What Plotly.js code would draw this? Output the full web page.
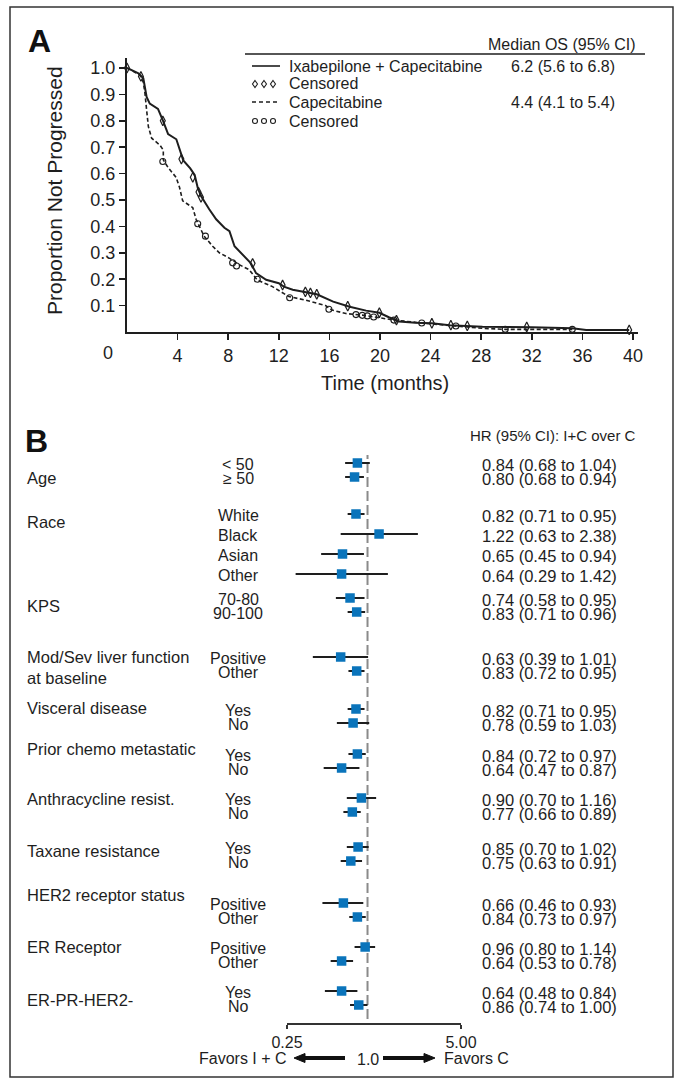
<!DOCTYPE html>
<html><head><meta charset="utf-8">
<script src="https://cdn.plot.ly/plotly-3.0.1.min.js"></script>
<style>html,body{margin:0;padding:0;background:#fff}</style>
</head><body><div id="chart" style="width:677px;height:1080px"></div>
<script>
// ---------------- Panel A data (Kaplan-Meier) ----------------
const ixaMonths = [0,0.9,1.29,1.42,1.55,1.8,2.45,2.85,3.25,3.9,4.18,4.45,5.0,5.35,5.6,5.85,6.5,7.05,7.7,8.1,8.5,9.15,9.8,10.2,11.0,12.0,12.4,13.1,14.1,15.0,16.3,17.6,18.9,19.95,20.7,21.5,22.8,24.1,25.5,26.8,28.1,32.0,35.2,36.3,39.7];
const ixaSurv   = [1.0,0.98,0.961,0.929,0.89,0.865,0.845,0.80,0.75,0.73,0.69,0.65,0.62,0.595,0.545,0.515,0.465,0.427,0.395,0.382,0.325,0.293,0.26,0.223,0.198,0.185,0.172,0.16,0.15,0.143,0.115,0.096,0.081,0.073,0.056,0.04,0.035,0.033,0.026,0.023,0.02,0.018,0.014,0.008,0.008];
const capMonths = [0,1.03,1.29,1.42,1.55,1.69,1.95,2.6,2.87,2.87,3.26,3.88,4.15,4.4,5.2,5.46,5.72,6.1,6.77,7.3,8.08,8.87,9.66,10.3,11.5,12.8,14.1,15.7,16.2,17.3,18.6,19.4,21.0,23.3,26.0,28.1,29.9,35.2];
const capSurv   = [1.0,0.973,0.946,0.904,0.841,0.778,0.734,0.708,0.689,0.652,0.622,0.586,0.548,0.497,0.471,0.427,0.40,0.363,0.325,0.30,0.28,0.255,0.236,0.197,0.172,0.134,0.121,0.10,0.083,0.07,0.064,0.058,0.046,0.034,0.023,0.014,0.01,0.01];
const ixaCensMonths = [0,1.1,2.83,4.3,5.2,5.65,5.85,9.93,12.3,14.1,14.5,15.0,17.45,19.95,21.3,24.1,25.6,26.9,31.6,39.7];
const ixaCensSurv   = [1.0,0.968,0.80,0.655,0.586,0.53,0.51,0.26,0.178,0.152,0.148,0.143,0.098,0.073,0.045,0.033,0.026,0.023,0.019,0.008];
const capCensMonths = [2.83,5.59,6.2,8.35,8.66,10.3,12.86,15.96,18.1,18.6,19.0,19.5,21.1,23.3,26.0,29.9,35.2];
const capCensSurv   = [0.646,0.41,0.363,0.262,0.25,0.2,0.13,0.086,0.066,0.063,0.061,0.057,0.045,0.034,0.023,0.01,0.01];
const xTickVals = [4,8,12,16,20,24,28,32,36,40];
const yTickVals = [0.1,0.2,0.3,0.4,0.5,0.6,0.7,0.8,0.9,1.0];
const legendNames  = ["Ixabepilone + Capecitabine","Censored","Capecitabine","Censored"];
const legendMedian = ["6.2 (5.6 to 6.8)","","4.4 (4.1 to 5.4)",""];

// ---------------- Panel B data (forest plot) ----------------
const groupNames = ["Age","Race","KPS","Mod/Sev liver function<br>at baseline","Visceral disease","Prior chemo metastatic","Anthracycline resist.","Taxane resistance","HER2 receptor status","ER Receptor","ER-PR-HER2-"];
const groupSizes = [2,4,2,2,2,2,2,2,2,2,2];
const subLabels = ["< 50","≥ 50","White","Black","Asian","Other","70-80","90-100","Positive","Other","Yes","No","Yes","No","Yes","No","Yes","No","Positive","Other","Positive","Other","Yes","No"];
const hrVals = [0.84,0.80,0.82,1.22,0.65,0.64,0.74,0.83,0.63,0.83,0.82,0.78,0.84,0.64,0.90,0.77,0.85,0.75,0.66,0.84,0.96,0.64,0.64,0.86];
const ciLow  = [0.68,0.68,0.71,0.63,0.45,0.29,0.58,0.71,0.39,0.72,0.71,0.59,0.72,0.47,0.70,0.66,0.70,0.63,0.46,0.73,0.80,0.53,0.48,0.74];
const ciHigh = [1.04,0.94,0.95,2.38,0.94,1.42,0.95,0.96,1.01,0.95,0.95,1.03,0.97,0.87,1.16,0.89,1.02,0.91,0.93,0.97,1.14,0.78,0.84,1.00];
const forestTicks = [0.25,5.00];

// ---------------- layout helpers ----------------
const W = 677, H = 1080;
const px = x => x / W;
const py = y => 1 - y / H;
const REG = "Liberation Sans, Arial, sans-serif";
const NAR = "Liberation Sans Narrow, Arial Narrow, Liberation Sans, sans-serif";
const INK = "#1e1e1e";

// row positions (vertical layout of forest plot, in pixel-like units)
const ROW_START = 463, PAIR_STEP = 14, MULTI_STEP = 20;
const GROUP_GAP = [0,37,24,45,38,31,30,35,42,30,30];
const GROUP_LABEL_SHIFT = [8,-2,1,3,-8,-12,-6,-3,-15,-7,2];
const rowPos = [], groupLabelY = [];
let cur = ROW_START;
groupSizes.forEach((n, g) => {
  cur += GROUP_GAP[g];
  const step = n > 2 ? MULTI_STEP : PAIR_STEP;
  const first = cur;
  for (let k = 0; k < n; k++) { rowPos.push(cur); if (k < n - 1) cur += step; }
  groupLabelY.push((first + first + step) / 2 + GROUP_LABEL_SHIFT[g]);
});

const fmt = v => v.toFixed(2);
const hrText = hrVals.map((h, i) => `${fmt(h)} (${fmt(ciLow[i])} to ${fmt(ciHigh[i])})`);

// ---------------- traces ----------------
const traces = [
  {x: ixaMonths, y: ixaSurv, mode: "lines", line: {color: INK, width: 2}, xaxis: "x", yaxis: "y", cliponaxis: false, hoverinfo: "skip"},
  {x: capMonths, y: capSurv, mode: "lines", line: {color: INK, width: 1.6, dash: "4px,2.5px"}, xaxis: "x", yaxis: "y", cliponaxis: false, hoverinfo: "skip"},
  {x: ixaCensMonths, y: ixaCensSurv, mode: "markers", marker: {symbol: "diamond-tall-open", size: 7, color: INK, line: {width: 1.2, color: INK}}, xaxis: "x", yaxis: "y", cliponaxis: false},
  {x: capCensMonths, y: capCensSurv, mode: "markers", marker: {symbol: "circle-open", size: 6, color: INK, line: {width: 1.1, color: INK}}, xaxis: "x", yaxis: "y", cliponaxis: false},
  {x: hrVals, y: rowPos, mode: "markers", xaxis: "x2", yaxis: "y2", cliponaxis: false,
   marker: {symbol: "square", size: 9.5, color: "#0a74bb", line: {width: 0}},
   error_x: {type: "data", symmetric: false,
             array: hrVals.map((h, i) => ciHigh[i] - h),
             arrayminus: hrVals.map((h, i) => h - ciLow[i]),
             color: INK, thickness: 2, width: 0}}
];

// ---------------- annotations ----------------
const ann = [];
const A = (o) => ann.push(Object.assign({showarrow: false, xref: "paper", yref: "paper", xanchor: "center", yanchor: "middle",
                                         font: {family: REG, size: 16, color: INK}}, o));

A({text: "<b>A</b>", x: px(39), y: py(41), font: {family: REG, size: 32, color: "#111"}});
A({text: "<b>B</b>", x: px(36), y: py(441), font: {family: REG, size: 32, color: "#111"}});
A({text: "Proportion Not Progressed", x: px(55), y: py(191), textangle: -90, font: {family: REG, size: 21, color: INK}});
A({text: "Time (months)", x: px(385), y: py(383), font: {family: REG, size: 20, color: INK}});
A({text: "0", x: px(108), y: py(353), font: {family: REG, size: 18, color: INK}});

// panel A legend
A({text: "Median OS (95% CI)", x: px(638), y: py(45), xanchor: "right", font: {family: REG, size: 16, color: INK}});
const legRowY = [66, 84, 102, 121];
legendNames.forEach((t, i) => {
  A({text: t, x: px(287), y: py(legRowY[i]), xanchor: "left"});
  if (legendMedian[i]) A({text: legendMedian[i], x: px(509), y: py(legRowY[i]), xanchor: "left"});
});

// panel B text
A({text: "HR (95% CI): I+C over C", x: px(638), y: py(436), xanchor: "right", font: {family: REG, size: 15, color: INK}});
groupNames.forEach((g, i) => {
  A({text: g, x: px(25), yref: "y2", y: groupLabelY[i], xanchor: "left", align: "left", font: {family: REG, size: 16.5, color: INK}});
});
subLabels.forEach((s, i) => {
  A({text: s, x: px(238), yref: "y2", y: rowPos[i] + 1, xanchor: "center", font: {family: REG, size: 16, color: INK}});
  A({text: hrText[i], x: px(619), yref: "y2", y: rowPos[i] + 2, xanchor: "right", font: {family: NAR, size: 16.5, color: INK}});
});
A({text: "Favors I + C", x: px(289), y: py(1058), xanchor: "right"});
A({text: "1.0", xref: "x2", x: 0, y: py(1059), xanchor: "center"});
A({text: "Favors C", x: px(442), y: py(1058), xanchor: "left"});

// ---------------- shapes ----------------
const shapes = [];
const S = (o) => shapes.push(Object.assign({xref: "paper", yref: "paper"}, o));
// frame
S({type: "rect", x0: px(10), x1: px(673), y0: py(1077), y1: py(7), line: {color: "#333", width: 1.5}, fillcolor: "rgba(0,0,0,0)", layer: "below"});
// legend rule & samples
S({type: "line", x0: px(245), x1: px(645), y0: py(54), y1: py(54), line: {color: INK, width: 1.3}});
S({type: "line", x0: px(252), x1: px(280), y0: py(66), y1: py(66), line: {color: INK, width: 1.6}});
S({type: "line", x0: px(252), x1: px(280), y0: py(102), y1: py(102), line: {color: INK, width: 1.6, dash: "4px,3px"}});
[255, 264, 273].forEach(cx => {
  const cy = 84;
  S({type: "path", path: `M ${px(cx)},${py(cy - 3.5)} L ${px(cx + 2.5)},${py(cy)} L ${px(cx)},${py(cy + 3.5)} L ${px(cx - 2.5)},${py(cy)} Z`, line: {color: INK, width: 1.1}});
  S({type: "circle", x0: px(cx - 2.5), x1: px(cx + 2.5), y0: py(121 + 2.5), y1: py(121 - 2.5), line: {color: INK, width: 1.1}});
});
// reference line at HR = 1
S({type: "line", xref: "x2", x0: 1, x1: 1, y0: py(1019), y1: py(455), line: {color: "#8a8a8a", width: 2, dash: "10px,4px"}, layer: "below"});
// arrows
S({type: "line", x0: px(345), x1: px(303), y0: py(1058), y1: py(1058), line: {color: "#111", width: 3.8}});
S({type: "path", path: `M ${px(305)},${py(1053.5)} L ${px(294)},${py(1058)} L ${px(305)},${py(1062.5)} Z`, fillcolor: "#111", line: {color: "#111", width: 1}});
S({type: "line", x0: px(383), x1: px(425), y0: py(1058), y1: py(1058), line: {color: "#111", width: 3.8}});
S({type: "path", path: `M ${px(424)},${py(1053.5)} L ${px(435)},${py(1058)} L ${px(424)},${py(1062.5)} Z`, fillcolor: "#111", line: {color: "#111", width: 1}});

// ---------------- layout ----------------
const layout = {
  width: W, height: H,
  margin: {l: 0, r: 0, t: 0, b: 0},
  paper_bgcolor: "#fff", plot_bgcolor: "rgba(0,0,0,0)",
  showlegend: false,
  font: {family: REG, color: INK},
  xaxis: {domain: [px(127), px(638)], range: [0, (638 - 127) / 12.65], anchor: "y",
          showline: true, linecolor: INK, linewidth: 2, ticks: "outside", ticklen: 6, tickwidth: 1.5, tickcolor: INK,
          tickvals: xTickVals, showgrid: false, zeroline: false, tickfont: {family: REG, size: 18, color: INK}},
  yaxis: {domain: [py(332), py(58)], range: [0, (332 - 58) / 264], anchor: "x",
          showline: true, linecolor: INK, linewidth: 2, ticks: "outside", ticklen: 6, tickwidth: 1.5, tickcolor: INK,
          tickvals: yTickVals, ticktext: yTickVals.map(v => v.toFixed(1)), showgrid: false, zeroline: false,
          tickfont: {family: REG, size: 18, color: INK}},
  xaxis2: {type: "log", domain: [px(287), px(461)], range: [Math.log10(0.25), Math.log10(5)], anchor: "y2",
           showline: true, linecolor: "#333", linewidth: 1.5, ticks: "outside", ticklen: 4, tickwidth: 1.5, tickcolor: "#333",
           tickvals: forestTicks, ticktext: forestTicks.map(v => v.toFixed(2)), showgrid: false, zeroline: false,
           tickfont: {family: NAR, size: 16, color: INK}},
  yaxis2: {domain: [py(1023), py(440)], range: [1023, 440], anchor: "x2", visible: false, showgrid: false, zeroline: false},
  annotations: ann,
  shapes: shapes
};

Plotly.newPlot("chart", traces, layout, {staticPlot: true, displayModeBar: false});
</script>
</body></html>
